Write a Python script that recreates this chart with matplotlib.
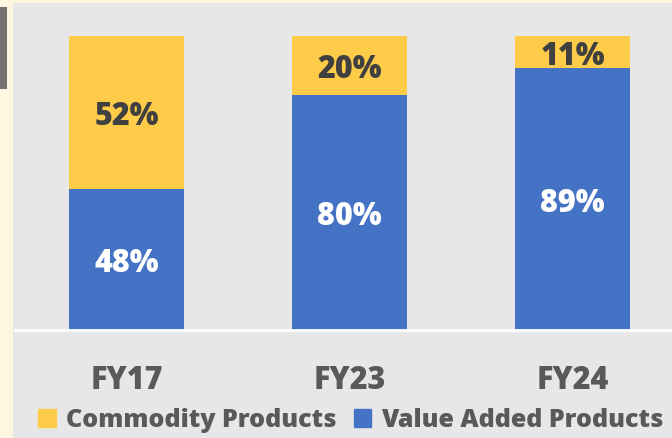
import matplotlib.pyplot as plt
from matplotlib.patches import Rectangle, Patch

# data
years = ['FY17', 'FY23', 'FY24']
value_added = [48, 80, 89]
commodity = [52, 20, 11]

blue = '#4472C4'
yellow = '#FFCC4A'
panel = '#E7E7E7'
cream = '#FFF6E2'
grey_text = '#595959'

plt.rcParams['font.family'] = ['Open Sans', 'DejaVu Sans']

fig = plt.figure(figsize=(6.72, 4.39), dpi=100)
fig.patch.set_facecolor(cream)

# grey panel and the dark block on the left edge
fig.patches.append(Rectangle((13 / 672, 0), 1, 1 - 4 / 439, transform=fig.transFigure,
                             facecolor=panel, edgecolor='none', zorder=-2))
fig.patches.append(Rectangle((0, 1 - 90 / 439), 7 / 672, 82 / 439, transform=fig.transFigure,
                             facecolor='#757171', edgecolor='none', zorder=-2))

ax = fig.add_axes([15 / 672, 108.5 / 439, 1 - 15 / 672, 293.5 / 439])
ax.set_facecolor('none')
ax.set_zorder(1)

x = range(len(years))
ax.bar(x, value_added, width=0.516, color=blue, zorder=2)
ax.bar(x, commodity, width=0.516, bottom=value_added, color=yellow, zorder=2)

for i in x:
    ax.text(i, value_added[i] / 2, f'{value_added[i]}%', ha='center', va='center_baseline',
            color='white', fontsize=22, fontweight='heavy', zorder=3)
    ax.text(i, value_added[i] + commodity[i] / 2, f'{commodity[i]}%', ha='center',
            va='center_baseline', color='#404040', fontsize=22, fontweight='heavy', zorder=3)

ax.set_xlim(-0.5, 2.446)
ax.set_ylim(0, 100)
ax.set_xticks(list(x))
ax.set_xticklabels(years, fontsize=22, fontweight='heavy', color=grey_text)
ax.tick_params(axis='x', length=0, pad=25)
ax.set_yticks([])
for s in ['top', 'right', 'left']:
    ax.spines[s].set_visible(False)
ax.spines['bottom'].set_color('white')
ax.spines['bottom'].set_linewidth(2)

handles = [Patch(color=yellow, label='Commodity Products'),
           Patch(color=blue, label='Value Added Products')]
leg = fig.legend(handles=handles, loc='center', bbox_to_anchor=(351 / 672, 18 / 439), ncol=2,
                 frameon=False, prop={'size': 18.1, 'weight': 'heavy'}, labelcolor=grey_text,
                 handlelength=0.7, handleheight=0.7, handletextpad=0.4, columnspacing=0.7)

fig.savefig('out.png', dpi=100, facecolor=fig.get_facecolor())
